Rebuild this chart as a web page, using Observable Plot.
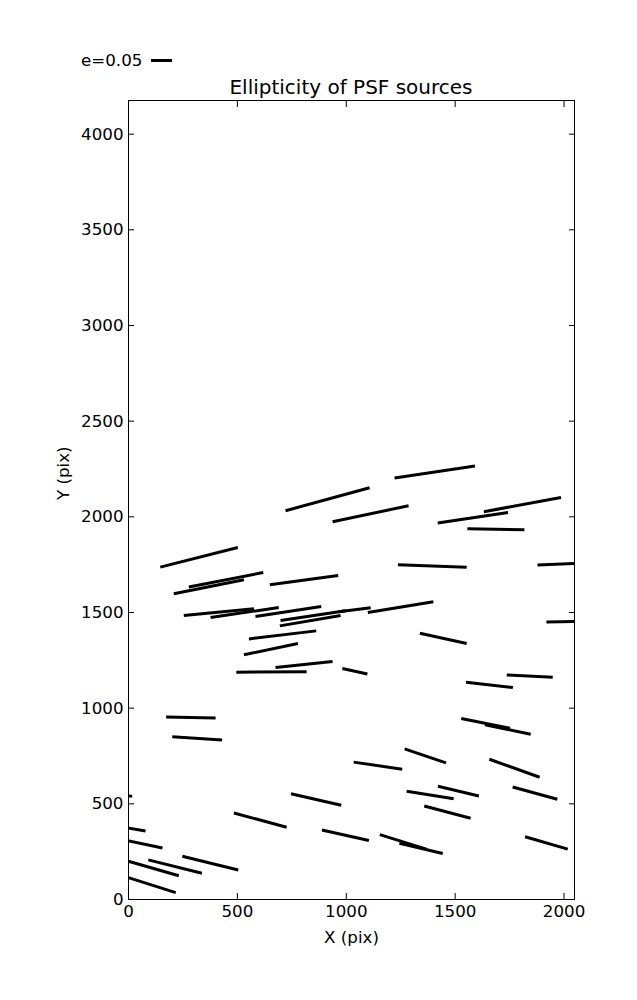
<!DOCTYPE html>
<html><head><meta charset="utf-8">
<script src="https://cdn.jsdelivr.net/npm/d3@7"></script>
<script src="https://cdn.jsdelivr.net/npm/@observablehq/plot@0.6"></script>
<style>
body{margin:0;background:#fff;font-family:"DejaVu Sans",sans-serif;}
#wrap{position:relative;width:637px;height:1000px;}
#legend{position:absolute;left:81px;top:50px;font-size:16.7px;line-height:20px;height:20px;display:flex;align-items:center;white-space:nowrap;z-index:2;}
#legend .key{display:inline-block;width:21px;height:3px;background:#000;margin-left:9px;}
#title{position:absolute;left:128px;width:446px;top:76px;text-align:center;font-size:20px;line-height:22px;white-space:nowrap;z-index:2;}
#chart{position:absolute;left:0;top:90px;z-index:1;}
</style>
</head><body>
<div id="wrap">
  <div id="legend"><span>e=0.05</span><span class="key"></span></div>
  <div id="title">Ellipticity of PSF sources</div>
  <div id="chart"></div>
</div>
<script>
// Segment endpoints (pixel coordinates of the CCD)
const x1s = [1222, 721, 937, 1632, 1420, 1556, 146, 649, 208, 277, 1237, 1878, 254, 377, 583, 698, 965, 1099, 695, 553, 530, 1338, 1919, 495, 675, 982, 1737, 1550, 173, 201, 1528, 1637, 1268, 1034, 1657, 746, 484, 888, 1277, 1421, 1358, 1764, 1154, 1244, 1821, -60, -83, -83, -37, 91, 247, -60];
const y1s = [2203, 2032, 1974, 2027, 1968, 1938, 1737, 1645, 1598, 1633, 1749, 1748, 1484, 1474, 1479, 1458, 1504, 1500, 1430, 1362, 1279, 1392, 1450, 1188, 1212, 1207, 1174, 1136, 954, 850, 946, 913, 787, 718, 733, 553, 452, 363, 566, 592, 489, 588, 339, 294, 328, 552, 390, 327, 212, 207, 226, 136];
const x2s = [1591, 1107, 1286, 1986, 1743, 1818, 502, 963, 530, 619, 1553, 2067, 576, 690, 885, 997, 1112, 1400, 974, 862, 778, 1553, 2067, 818, 937, 1097, 1948, 1765, 400, 430, 1752, 1847, 1458, 1257, 1888, 977, 726, 1104, 1493, 1609, 1571, 1969, 1368, 1443, 2017, 17, 78, 156, 231, 337, 504, 217];
const y2s = [2266, 2152, 2058, 2101, 2023, 1932, 1840, 1693, 1671, 1709, 1737, 1757, 1519, 1526, 1531, 1509, 1525, 1556, 1484, 1404, 1338, 1338, 1454, 1190, 1244, 1179, 1162, 1108, 948, 834, 895, 864, 714, 681, 639, 493, 378, 308, 527, 541, 425, 524, 263, 240, 263, 539, 358, 269, 124, 137, 154, 36];

const xTicks = [0, 500, 1000, 1500, 2000];
const yTicks = [0, 500, 1000, 1500, 2000, 2500, 3000, 3500, 4000];
const xDomain = [0, 2048];
const yDomain = [0, 4176];
const xLabel = "X (pix)";
const yLabel = "Y (pix)";

const segs = x1s.map((x, i) => ({x1: x, y1: y1s[i], x2: x2s[i], y2: y2s[i]}));
const fmt = d => String(d);

const chart = Plot.plot({
  width: 637,
  height: 910,
  marginTop: 10,
  marginBottom: 101,
  marginLeft: 128,
  marginRight: 63,
  style: {fontFamily: "DejaVu Sans", fontSize: "16.7px", color: "black", background: "transparent"},
  x: {domain: xDomain, ticks: xTicks, label: null},
  y: {domain: yDomain, ticks: yTicks, label: null},
  marks: [
    Plot.link(segs, {x1: "x1", y1: "y1", x2: "x2", y2: "y2", stroke: "black", strokeWidth: 3, strokeLinecap: "butt", clip: true}),
    Plot.frame({stroke: "black", strokeWidth: 1}),
    Plot.axisX({ticks: xTicks, anchor: "bottom", tickSize: 0, tickPadding: 6, tickFormat: fmt, label: null}),
    Plot.axisY({ticks: yTicks, anchor: "left", tickSize: 0, tickPadding: 5, tickFormat: fmt, label: null}),
    Plot.axisX({ticks: xTicks, anchor: "bottom", tickSize: -6, tickFormat: () => "", label: null}),
    Plot.axisX({ticks: xTicks, anchor: "top", tickSize: -6, tickFormat: () => "", label: null}),
    Plot.axisY({ticks: yTicks, anchor: "left", tickSize: -6, tickFormat: () => "", label: null}),
    Plot.axisY({ticks: yTicks, anchor: "right", tickSize: -6, tickFormat: () => "", label: null}),
    Plot.text([xLabel], {text: d => d, frameAnchor: "bottom", dy: 43, fontSize: 16.7}),
    Plot.text([yLabel], {text: d => d, frameAnchor: "left", dx: -65, rotate: -90, fontSize: 16.7})
  ]
});
document.getElementById("chart").appendChild(chart);
</script>
</body></html>
